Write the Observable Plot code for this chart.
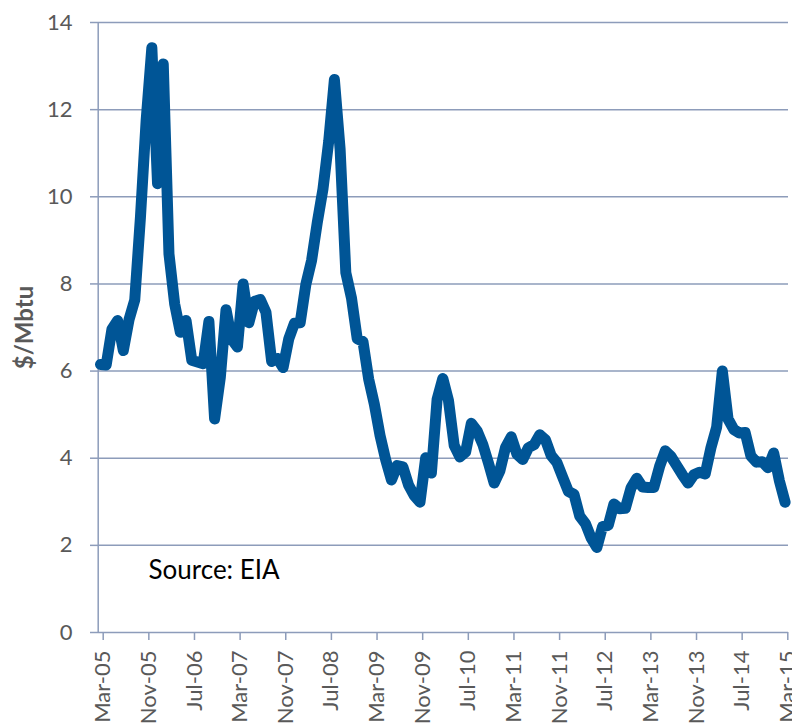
<!DOCTYPE html>
<html>
<head>
<meta charset="utf-8">
<script src="https://cdn.jsdelivr.net/npm/d3@7"></script>
<script src="https://cdn.jsdelivr.net/npm/@observablehq/plot@0.6"></script>
<style>
  html, body { margin: 0; padding: 0; background: #ffffff; }
  #chart { width: 792px; height: 728px; overflow: hidden; }
</style>
</head>
<body>
<div id="chart"></div>
<script>
// Monthly price values ($/Mbtu), in plotting order
const prices2005 = [6.15, 6.14, 6.96, 7.16, 6.47, 7.18, 7.63, 9.53, 11.75, 13.42, 10.30, 13.05];
const prices2006 = [8.69, 7.54, 6.89, 7.16, 6.25, 6.21, 6.17, 7.14, 4.90, 5.85, 7.41, 6.73];
const prices2007 = [6.55, 8.00, 7.11, 7.60, 7.64, 7.35, 6.22, 6.29, 6.08, 6.74, 7.10, 7.11];
const prices2008 = [7.99, 8.54, 9.41, 10.18, 11.27, 12.69, 11.09, 8.26, 7.67, 6.74, 6.68, 5.82];
const prices2009 = [5.24, 4.52, 3.96, 3.50, 3.83, 3.80, 3.38, 3.14, 2.99, 4.01, 3.66, 5.35];
const prices2010 = [5.83, 5.32, 4.29, 4.03, 4.14, 4.80, 4.63, 4.32, 3.89, 3.43, 3.71, 4.25];
const prices2011 = [4.49, 4.09, 3.97, 4.24, 4.31, 4.54, 4.42, 4.06, 3.90, 3.57, 3.24, 3.17];
const prices2012 = [2.67, 2.50, 2.17, 1.95, 2.43, 2.46, 2.95, 2.84, 2.85, 3.32, 3.54, 3.34];
const prices2013 = [3.33, 3.33, 3.81, 4.17, 4.04, 3.83, 3.62, 3.43, 3.62, 3.68, 3.64, 4.24];
const prices2014 = [4.71, 6.00, 4.90, 4.66, 4.58, 4.59, 4.05, 3.91, 3.92, 3.78, 4.12, 3.48];
const prices2015 = [2.99];

// Category tick labels (one every 8 months)
const xTickLabels = ["Mar-05", "Nov-05", "Jul-06", "Mar-07", "Nov-07", "Jul-08", "Mar-09", "Nov-09",
                     "Jul-10", "Mar-11", "Nov-11", "Jul-12", "Mar-13", "Nov-13", "Jul-14", "Mar-15"];
const xTickStep = 8;
const yTicks = [0, 2, 4, 6, 8, 10, 12, 14];
const yTitle = "$/Mbtu";
const sourceNote = "Source: EIA";

// Build table
const allPrices = [].concat(prices2005, prices2006, prices2007, prices2008, prices2009, prices2010,
                            prices2011, prices2012, prices2013, prices2014, prices2015);
const series = allPrices.map((v, i) => ({ month: i, price: v }));
const xTicks = xTickLabels.map((_, k) => k * xTickStep);

const gridColor = "#8D9CBA";
const textColor = "#595959";
const lineColor = "#005596";

const chart = Plot.plot({
  width: 792,
  height: 728,
  marginLeft: 98,
  marginRight: 4,
  marginTop: 22,
  marginBottom: 96,
  style: { fontFamily: "Lato, 'Open Sans', sans-serif", background: "#ffffff", overflow: "visible" },
  x: { domain: [0, xTicks[xTicks.length - 1]], range: [97.7, 782.3] },
  y: { domain: [0, 14], range: [632, 22] },
  marks: [
    Plot.gridY(yTicks.filter(d => d > 0), { stroke: gridColor, strokeOpacity: 1, strokeWidth: 1.5 }),
    Plot.ruleX([0], { stroke: gridColor, strokeWidth: 1.5 }),
    Plot.ruleY([0], { stroke: gridColor, strokeWidth: 1.5 }),
    Plot.axisY(yTicks, {
      tickSize: 8, tickPadding: 18, fontSize: 22, fill: textColor,
      stroke: gridColor, strokeWidth: 1.5, label: null
    }),
    Plot.axisX(xTicks, {
      tickFormat: (d) => xTickLabels[d / xTickStep],
      tickRotate: -90, tickSize: 8, tickPadding: 10, fontSize: 22,
      fill: textColor, stroke: gridColor, strokeWidth: 1.5, label: null, dx: 5
    }),
    Plot.line(series, {
      x: "month", y: "price", dx: 2.3, stroke: lineColor, strokeWidth: 11,
      strokeLinejoin: "round", strokeLinecap: "round"
    }),
    Plot.text([yTitle], {
      frameAnchor: "left", textAnchor: "middle", rotate: -90, dx: -73,
      fontSize: 24, fontWeight: "bold", fill: textColor
    }),
    Plot.text([sourceNote], {
      frameAnchor: "bottom-left", textAnchor: "start", dx: 50, dy: -54, fontSize: 26, fill: "#000000"
    })
  ]
});

document.getElementById("chart").appendChild(chart);
</script>
</body>
</html>
